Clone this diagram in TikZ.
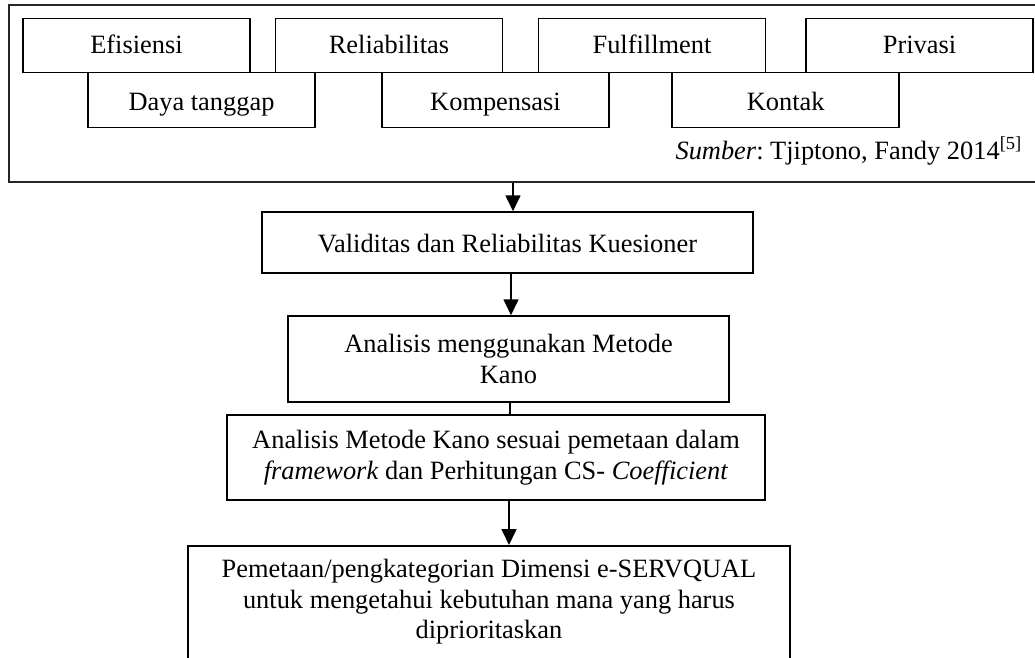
\documentclass[tikz,border=0pt]{standalone}
\usepackage{fontspec}
\setmainfont{Liberation Serif}
\usetikzlibrary{arrows.meta}
\begin{document}
\frenchspacing
\begin{tikzpicture}[x=1pt,y=-1pt,
  every node/.style={font=\fontsize{26.4}{30.6}\selectfont\frenchspacing},
  box/.style={draw=black, line width=1.5pt, inner sep=0pt, align=center},
  dimbox/.style={box, minimum width=227pt},
  toprow/.style={dimbox, minimum height=54pt, text height=19pt, text depth=3.6pt},
  botrow/.style={dimbox, minimum height=55.4pt, text height=20pt, text depth=0pt},
  arr/.style={line width=1.6pt, -{Triangle[width=15pt,length=16pt]}},
  plain/.style={line width=1.6pt}]
\useasboundingbox (0,0) rectangle (1035,657);
\clip (0,0) rectangle (1035,657);
% outer frame (right side cut off by the page)
\node[draw=black!85, line width=1.8pt, minimum width=1040pt, minimum height=177pt, inner sep=0pt] (outer) at (529,93.2) {};
% dimension boxes, top row
\node[toprow] (efi) at (136.5,45.3) {Efisiensi};
\node[toprow] (rel) at (389,45.3) {Reliabilitas};
\node[toprow] (ful) at (652,45.3) {Fulfillment};
\node[toprow] (pri) at (919.5,45.3) {Privasi};
% bottom row
\node[botrow] (day) at (201.5,100) {Daya tanggap};
\node[botrow] (kom) at (495.5,100) {Kompensasi};
\node[botrow] (kon) at (785.7,100) {Kontak};
% source
\node[anchor=base east, inner sep=0pt] (src) at (1022,159) {\textit{Sumber}: Tjiptono, Fandy 2014\textsuperscript{[5]}};
% flow boxes
\node[box, minimum width=491pt, minimum height=61pt, text height=19pt, text depth=0pt] (val) at (507.5,242.5) {Validitas dan Reliabilitas Kuesioner};
\node[box, minimum width=441pt, minimum height=86pt] (kano) at (508.5,359) {Analisis menggunakan Metode\\Kano};
\node[box, minimum width=538pt, minimum height=85pt] (map) at (496,457.5) {Analisis Metode Kano sesuai pemetaan dalam\\\textit{framework} dan Perhitungan CS- \textit{Coefficient}};
\node[box, minimum width=602pt, minimum height=140pt, anchor=north] (cat) at (489,545) {};
\node[align=center, inner sep=0pt] (cattxt) at (489,602) {Pemetaan/pengkategorian Dimensi e-SERVQUAL\\untuk mengetahui kebutuhan mana yang harus\\diprioritaskan};
% connectors
\draw[arr] (outer.south -| 513,0) -- (val.north -| 513,0);
\draw[arr] (val.south -| 511,0) -- (kano.north -| 511,0);
\draw[plain] (kano.south -| 510,0) -- (map.north -| 510,0);
\draw[arr] (map.south -| 509,0) -- (cat.north -| 509,0);
\end{tikzpicture}
\end{document}
